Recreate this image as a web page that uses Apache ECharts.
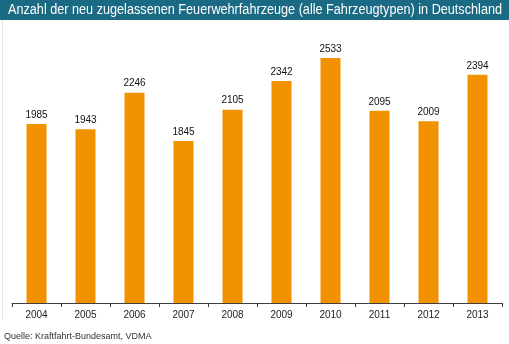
<!DOCTYPE html>
<html><head><meta charset="utf-8">
<script src="https://cdn.jsdelivr.net/npm/echarts@6/dist/echarts.min.js"></script>
<style>html,body{margin:0;padding:0;background:#fff}#c{width:509px;height:344px}</style>
</head><body><div id="c"></div>
<script>
const years = ['2004','2005','2006','2007','2008','2009','2010','2011','2012','2013'];
const counts = [1985,1943,2246,1845,2105,2342,2533,2095,2009,2394];
const titleText = 'Anzahl der neu zugelassenen Feuerwehrfahrzeuge (alle Fahrzeugtypen) in Deutschland';
const sourceText = 'Quelle: Kraftfahrt-Bundesamt, VDMA';

const titleFont = '14px "Liberation Sans", Arial, sans-serif';
const mc = document.createElement('canvas').getContext('2d');
mc.font = titleFont;
const tw = mc.measureText(titleText).width;
const sx = Math.min(1, 494 / tw);

const chart = echarts.init(document.getElementById('c'), null, {renderer:'canvas'});
chart.setOption({
  animation:false,
  backgroundColor:'#fff',
  graphic:[
    {type:'rect', left:0, top:0, shape:{width:509,height:20}, style:{fill:'#1b6a84'}},
    {type:'text', x:8, y:3, scaleX:sx, style:{text:titleText, fill:'#fff', font:titleFont}},
    {type:'rect', left:2, top:20, shape:{width:1,height:300}, style:{fill:'#e4e4e4'}},
    {type:'text', left:4, top:332, style:{text:sourceText, fill:'#333', font:'9px "Liberation Sans", Arial, sans-serif'}}
  ],
  grid:{left:12, right:7, top:50, bottom:41},
  xAxis:{type:'category', data:years,
    axisLine:{lineStyle:{color:'#404040', width:1}},
    axisTick:{show:true, length:4, lineStyle:{color:'#404040'}},
    axisLabel:{color:'#222', fontSize:10, fontFamily:'"Liberation Sans", Arial, sans-serif', margin:7}
  },
  yAxis:{type:'value', min:500, max:2600, show:false, splitLine:{show:false}},
  series:[{type:'bar', data:counts, barWidth:20,
    itemStyle:{color:'#f39200'},
    label:{show:true, position:'top', distance:4, color:'#111', fontSize:10, fontFamily:'"Liberation Sans", Arial, sans-serif'}
  }]
});
</script></body></html>
